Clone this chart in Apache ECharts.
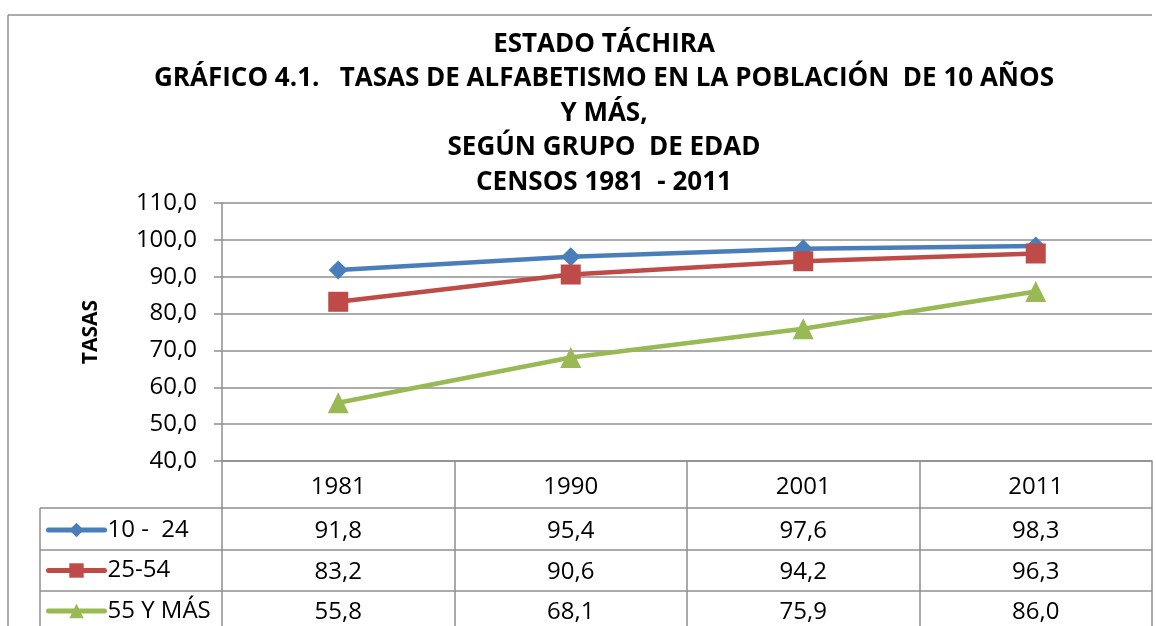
<!DOCTYPE html>
<html>
<head>
<meta charset="utf-8">
<script src="https://cdn.jsdelivr.net/npm/echarts@6/dist/echarts.min.js"></script>
<style>
  html, body { margin: 0; padding: 0; background: #fff; }
  #chart { width: 1156px; height: 626px; }
</style>
</head>
<body>
<div id="chart"></div>
<script>
const years = ['1981', '1990', '2001', '2011'];
const seriesNames = ['10 -  24', '25-54', '55 Y MÁS'];
const joven = [91.8, 95.4, 97.6, 98.3];
const adulto = [83.2, 90.6, 94.2, 96.3];
const mayor = [55.8, 68.1, 75.9, 86.0];
const colors = ['#4a7ebb', '#be4b48', '#98b954'];
const symbols = ['diamond', 'rect', 'triangle'];
const symbolSizes = [19, 20, 21];

const FONT = 'Open Sans';
const GRID_LINE = '#8f8f8f';

const fmt = (v) => v.toFixed(1).replace('.', ',');

const drawChart = (domElement) => {
  const chart = echarts.init(domElement);
  const rows = [joven, adulto, mayor];

  const tableLine = (x1, y1, x2, y2) => ({
    type: 'line',
    shape: { x1, y1, x2, y2 },
    style: { stroke: GRID_LINE, lineWidth: 1.5 },
    silent: true,
  });

  const option = {
    backgroundColor: '#fff',
    animation: false,
    title: {
      text: 'ESTADO TÁCHIRA\nGRÁFICO 4.1.   TASAS DE ALFABETISMO EN LA POBLACIÓN  DE 10 AÑOS\nY MÁS,\nSEGÚN GRUPO  DE EDAD\nCENSOS 1981  - 2011',
      left: 604,
      top: 27,
      textAlign: 'center',
      padding: 0,
      textStyle: {
        fontFamily: FONT,
        fontWeight: 'bold',
        fontSize: 26,
        lineHeight: 34.5,
        color: '#000',
      },
    },
    legend: {
      orient: 'vertical',
      left: 46,
      top: 518,
      padding: 0,
      itemWidth: 56,
      itemHeight: 18,
      itemGap: 16.5,
      selectedMode: false,
      data: seriesNames,
      lineStyle: { width: 5, cap: 'round' },
      textStyle: {
        fontFamily: FONT,
        fontSize: 24,
        lineHeight: 24,
        color: '#000',
        padding: [0, 0, 0, -2],
      },
    },
    grid: {
      left: 222,
      right: 4,
      top: 203,
      bottom: 165,
      outerBoundsMode: 'none',
    },
    xAxis: {
      type: 'category',
      data: years,
      boundaryGap: true,
      axisLine: { lineStyle: { color: GRID_LINE, width: 1.5 } },
      axisTick: {
        show: true,
        interval: 0,
        length: 170,
        lineStyle: { color: GRID_LINE, width: 1.5 },
      },
      axisLabel: {
        interval: 0,
        margin: 2,
        formatter: (value, idx) =>
          `{y|${value}}\n` + rows.map((r) => `{v|${fmt(r[idx])}}`).join('\n'),
        rich: {
          y: { fontFamily: FONT, fontSize: 24, lineHeight: 48, color: '#000' },
          v: { fontFamily: FONT, fontSize: 24, lineHeight: 40.5, color: '#000' },
        },
      },
    },
    yAxis: {
      type: 'value',
      min: 40,
      max: 110,
      interval: 10,
      name: 'TASAS',
      nameLocation: 'middle',
      nameRotate: 90,
      nameGap: 120,
      nameTextStyle: {
        fontFamily: FONT,
        fontWeight: 'bold',
        fontSize: 21,
        color: '#000',
      },
      axisLine: { show: true, lineStyle: { color: GRID_LINE, width: 1.5 } },
      axisTick: { show: true, length: 8, lineStyle: { color: GRID_LINE, width: 1.5 } },
      splitLine: { lineStyle: { color: GRID_LINE, width: 1.5 } },
      axisLabel: {
        margin: 25,
        fontFamily: FONT,
        fontSize: 24,
        color: '#000',
        formatter: (v) => fmt(v),
      },
    },
    series: rows.map((data, i) => ({
      name: seriesNames[i],
      type: 'line',
      data,
      symbol: symbols[i],
      symbolSize: symbolSizes[i],
      showAllSymbol: true,
      lineStyle: { color: colors[i], width: 4.5 },
      itemStyle: { color: colors[i] },
      z: 2 + i,
    })),
    graphic: [
      // outer chart frame (right / bottom edges cropped off)
      tableLine(8, 15, 1152, 15),
      tableLine(8, 15, 8, 626),
      // data table rows and its left border
      tableLine(40, 508, 1152, 508),
      tableLine(40, 550, 1152, 550),
      tableLine(40, 591, 1152, 591),
      tableLine(40, 508, 40, 626),
    ],
  };
  chart.setOption(option);
};

const $chartDom = document.querySelector('#chart');
drawChart($chartDom);
</script>
</body>
</html>
